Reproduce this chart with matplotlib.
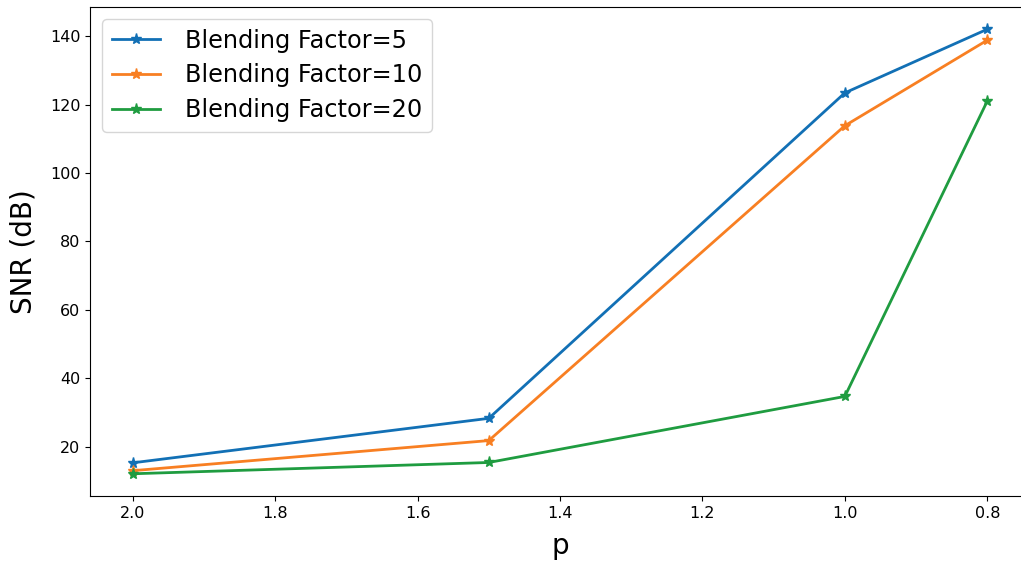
import matplotlib
matplotlib.use("Agg")
import matplotlib.pyplot as plt

p_values = [2.0, 1.5, 1.0, 0.8]
snr_bf5 = [15.3, 28.3, 123.4, 142.0]
snr_bf10 = [13.0, 21.8, 113.8, 138.8]
snr_bf20 = [12.1, 15.4, 34.7, 121.0]
series_labels = ["Blending Factor=5", "Blending Factor=10", "Blending Factor=20"]
series_colors = ["#1270b5", "#f87f22", "#1f9c40"]

fig = plt.figure(figsize=(10.21, 5.66), dpi=100)
ax = fig.add_axes([90 / 1021, 1 - 496 / 566, (1030 - 90) / 1021, (496 - 7) / 566])

for vals, lab, col in zip([snr_bf5, snr_bf10, snr_bf20], series_labels, series_colors):
    ax.plot(p_values, vals, marker="*", markersize=8, linewidth=2, color=col, label=lab)

ax.invert_xaxis()
ax.set_xlabel("p", fontsize=20, labelpad=8)
ax.set_ylabel("SNR (dB)", fontsize=20, labelpad=9)
ax.tick_params(labelsize=11.5)
ax.legend(loc="upper left", fontsize=17.3, handlelength=2, handletextpad=1.05,
          borderaxespad=0.5, labelspacing=0.45)

fig.savefig("out.png", dpi=100)
